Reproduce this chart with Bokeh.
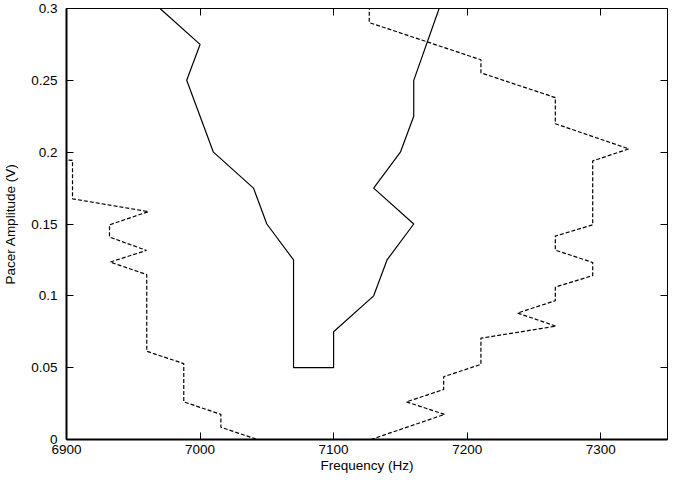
from bokeh.plotting import figure
from bokeh.models import Range1d, LinearAxis, FixedTicker
from bokeh.embed import file_html
from bokeh.resources import INLINE

# ---- data ----
solid_freq = [6970, 7000, 6990, 7010, 7040, 7050, 7070, 7070, 7100, 7100,
              7130, 7140, 7160, 7130, 7150, 7160, 7160, 7179]
solid_amp = [0.3, 0.275, 0.25, 0.2, 0.175, 0.15, 0.125, 0.05, 0.05, 0.075,
             0.1, 0.125, 0.15, 0.175, 0.2, 0.225, 0.25, 0.3]

left_dash_freq = [6901.5, 6904.5, 6904.5, 6961.3, 6932.2, 6932.2, 6959.9, 6932.7,
                  6960.1, 6960.1, 6987.8, 6987.8, 7015.6, 7015.6, 7043]
left_dash_amp = [0.1945, 0.1943, 0.1675, 0.1586, 0.1494, 0.1409, 0.1316, 0.1235,
                 0.1148, 0.0614, 0.0528, 0.0262, 0.0175, 0.0085, 0.0]

right_dash_freq = [7127.9, 7183.1, 7154.5, 7182.4, 7182.4, 7210.3, 7210.3, 7266.5,
                   7237.7, 7266.0, 7266.0, 7294.0, 7294.0, 7266.0, 7266.0, 7294.0,
                   7294.0, 7321.0, 7266.0, 7266.0, 7210.3, 7210.3, 7126.7, 7126.7]
right_dash_amp = [0.0, 0.0175, 0.0262, 0.0348, 0.0437, 0.0523, 0.0705, 0.0789,
                  0.088, 0.0966, 0.1061, 0.1141, 0.1232, 0.1318, 0.1416, 0.1494,
                  0.1939, 0.2023, 0.2198, 0.238, 0.2552, 0.2643, 0.2902, 0.3005]

x_ticks = [6900, 7000, 7100, 7200, 7300]
x_tick_labels = ["6900", "7000", "7100", "7200", "7300"]
y_ticks = [0, 0.05, 0.1, 0.15, 0.2, 0.25, 0.3]
y_tick_labels = ["0", "0.05", "0.1", "0.15", "0.2", "0.25", "0.3"]

FONT = "Liberation Sans"
FS = "13.5px"

p = figure(width=668, height=475, output_backend="svg", toolbar_location=None,
           x_range=Range1d(6900, 7350), y_range=Range1d(0, 0.3),
           min_border_left=65, min_border_right=1, min_border_top=8, min_border_bottom=36)
p.background_fill_color = "white"
p.border_fill_color = "white"
p.outline_line_color = "black"
p.outline_line_width = 1
p.xgrid.visible = False
p.ygrid.visible = False

# main axes
xa = p.xaxis[0]
ya = p.yaxis[0]
xa.ticker = FixedTicker(ticks=x_ticks)
ya.ticker = FixedTicker(ticks=y_ticks)
xa.major_label_overrides = {t: l for t, l in zip(x_ticks, x_tick_labels)}
ya.major_label_overrides = {t: l for t, l in zip(y_ticks, y_tick_labels)}
for ax in (xa, ya):
    ax.axis_line_width = 2
    ax.axis_line_color = "black"
    ax.major_tick_in = 7
    ax.major_tick_out = 0
    ax.major_tick_line_color = "black"
    ax.minor_tick_line_color = None
    ax.major_label_text_font = FONT
    ax.major_label_text_font_size = FS
    ax.major_label_text_color = "black"
    ax.axis_label_text_font = FONT
    ax.axis_label_text_font_size = FS
    ax.axis_label_text_font_style = "normal"
    ax.axis_label_text_color = "black"
xa.axis_label = "Frequency (Hz)"
ya.axis_label = "Pacer Amplitude (V)"
xa.major_label_standoff = 5
xa.axis_label_standoff = 1
ya.major_label_standoff = 9
ya.axis_label_standoff = 10

# mirrored tick axes (top and right)
for loc, ticks in (("above", x_ticks), ("right", y_ticks)):
    ax = LinearAxis(ticker=FixedTicker(ticks=ticks))
    ax.axis_line_color = None
    ax.major_tick_in = 7
    ax.major_tick_out = 0
    ax.major_tick_line_color = "black"
    ax.minor_tick_line_color = None
    ax.major_label_text_font_size = "0px"
    ax.major_label_standoff = 0
    ax.major_label_text_color = None
    p.add_layout(ax, loc)

p.line(solid_freq, solid_amp, line_color="black", line_width=1.2)
p.line(left_dash_freq, left_dash_amp, line_color="black", line_width=1.2, line_dash="4 2")
p.line(right_dash_freq, right_dash_amp, line_color="black", line_width=1.2, line_dash="4 2")

open("out.html", "w").write(file_html(p, INLINE))
